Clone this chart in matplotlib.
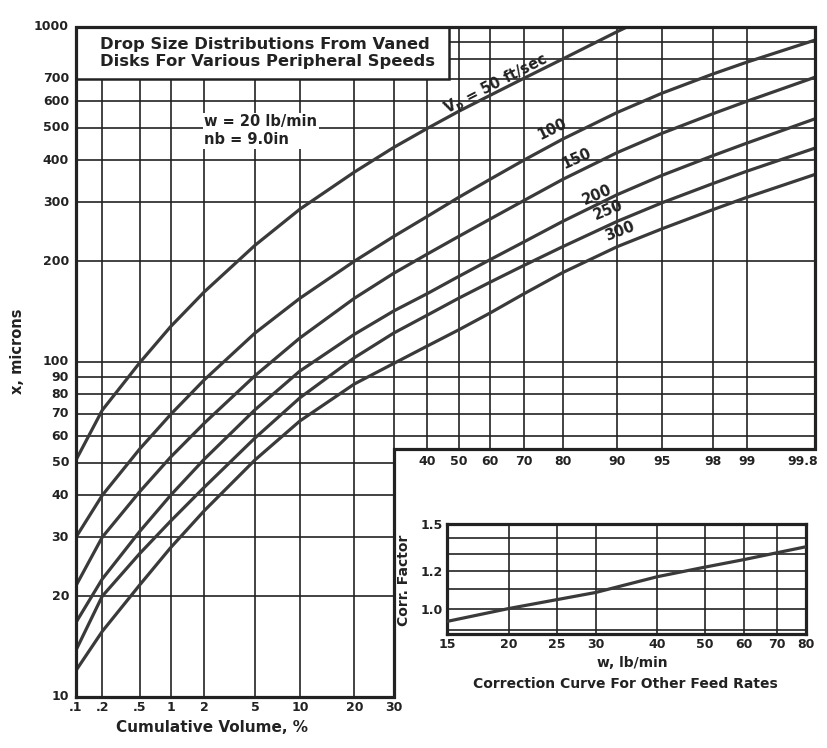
import numpy as np
import matplotlib
matplotlib.use("Agg")
import matplotlib.pyplot as plt
from matplotlib.patches import Rectangle
from matplotlib.ticker import NullLocator, FixedLocator, FixedFormatter
from statistics import NormalDist

# ------------------------------------------------------------------ data
xticks_lower = [0.1, 0.2, 0.5, 1, 2, 5, 10, 20, 30]
xlabels_lower = [".1", ".2", ".5", "1", "2", "5", "10", "20", "30"]
xticks_upper = [40, 50, 60, 70, 80, 90, 95, 98, 99, 99.8]
xlabels_upper = ["40", "50", "60", "70", "80", "90", "95", "98", "99", "99.8"]
yticks = [10, 20, 30, 40, 50, 60, 70, 80, 90, 100, 200, 300, 400, 500, 600, 700, 1000]
ygrid = [20, 30, 40, 50, 60, 70, 80, 90, 100, 200, 300, 400, 500, 600, 700, 800, 900]
step_level = 55

pct = [0.1, 0.2, 0.5, 1, 2, 5, 10, 20, 30, 40, 50, 60, 70, 80, 90, 95, 98, 99, 99.8]
pct_50 = [0.1, 0.2, 0.5, 1, 2, 5, 10, 20, 30, 40, 50, 60, 70, 80, 90, 91.3]
size_50 = [51, 71.8, 99.5, 127.5, 162, 223, 286, 369, 437, 498, 560, 625, 702, 803, 969, 1000]
size_100 = [30, 40, 55, 69.7, 88.5, 122, 155, 200, 237, 272, 310, 351, 400, 463, 556, 635, 724, 785, 914]
size_150 = [21.5, 30, 41, 52, 65.7, 91, 118, 155, 184, 210, 237, 267, 303, 351, 422, 482, 551, 600, 708]
size_200 = [16.7, 22.5, 31.2, 40, 51.3, 72, 94, 121, 142, 160, 180, 202, 228, 263, 316, 361, 413, 450, 532]
size_250 = [13.8, 20, 26.8, 33.5, 42.3, 59.3, 78.2, 103, 122, 138, 155, 173, 194, 221, 263, 299, 341, 371, 435]
size_300 = [12, 15.7, 21.6, 27.9, 36, 51, 66.7, 86, 99, 111.6, 124.7, 140, 159.6, 185, 221, 250, 285, 310, 363]

w_feed = [15, 20, 30, 40, 50, 60, 80]
corr_factor = [0.94, 1.0, 1.08, 1.165, 1.22, 1.265, 1.345]
w_ticks = [15, 20, 25, 30, 40, 50, 60, 70, 80]
corr_ticks = [1.0, 1.2, 1.5]
corr_grid = [0.9, 1.0, 1.1, 1.2, 1.3, 1.4]

# ------------------------------------------------------------------ style
plt.rcParams["font.family"] = ["DejaVu Sans"]
plt.rcParams["font.weight"] = "bold"
INK = "#222222"
CURVE = "#3a3a3a"

_nd = NormalDist()


def _fwd(p):
    p = np.clip(np.asarray(p, dtype=float) / 100.0, 1e-7, 1 - 1e-7)
    return np.vectorize(_nd.inv_cdf, otypes=[float])(p)


def _inv(z):
    z = np.asarray(z, dtype=float)
    return 100.0 * np.vectorize(_nd.cdf, otypes=[float])(z)


fig = plt.figure(figsize=(8.27, 7.48), dpi=100)
W, H = 827.0, 748.0
ax = fig.add_axes([76 / W, 1 - 697 / H, (815 - 76) / W, (697 - 27) / H])
ax.set_xscale("function", functions=(_fwd, _inv))
ax.set_yscale("log")
ax.set_xlim(0.1, 99.8)
ax.set_ylim(10, 1000)
for axis in (ax.xaxis, ax.yaxis):
    axis.set_major_locator(NullLocator())
    axis.set_minor_locator(NullLocator())
for s in ax.spines.values():
    s.set_visible(False)

# grid lines (L-shaped chart area)
ax.vlines(xticks_lower[1:], 10, 1000, colors=INK, lw=1.2, zorder=1)
ax.vlines(xticks_upper[:-1], step_level, 1000, colors=INK, lw=1.2, zorder=1)
for v in ygrid:
    ax.hlines(v, 0.1, 30 if v < step_level else 99.8, colors=INK, lw=1.2, zorder=1)

# frame
fx = [0.1, 30, 30, 99.8, 99.8, 0.1, 0.1]
fy = [10, 10, step_level, step_level, 1000, 1000, 10]
ax.plot(fx, fy, color=INK, lw=2.3, clip_on=False, zorder=6, solid_joinstyle="miter")

# curves
ax.plot(pct_50, size_50, color=CURVE, lw=2.3, zorder=3)
for s in (size_100, size_150, size_200, size_250, size_300):
    ax.plot(pct, s, color=CURVE, lw=2.3, zorder=3)

# curve labels
lab_kw = dict(fontsize=10.5, fontweight="bold", color=INK, ha="center", va="center", zorder=5)
ax.text(62, 672, r"V$_\mathbf{p}$ = 50 ft/sec", rotation=27, **lab_kw)
ax.text(77.5, 496, "100", rotation=26, **lab_kw)
ax.text(83, 406, "150", rotation=24, **lab_kw)
ax.text(86.8, 316, "200", rotation=23, **lab_kw)
ax.text(88.6, 285, "250", rotation=22, **lab_kw)
ax.text(90.4, 246, "300", rotation=21, **lab_kw)

# title box
ax.add_patch(Rectangle((0.1, 700), 47 - 0.1, 300, facecolor="white",
                       edgecolor=INK, lw=1.8, zorder=4))
ax.text(0.19, 835, "Drop Size Distributions From Vaned\nDisks For Various Peripheral Speeds",
        fontsize=11.8, fontweight="bold", color=INK, ha="left", va="center",
        linespacing=1.15, zorder=5)

ax.text(2.0, 490, "w = 20 lb/min\nnb = 9.0in", fontsize=10.5, fontweight="bold",
        color=INK, ha="left", va="center", linespacing=1.25, zorder=5,
        bbox=dict(facecolor="white", edgecolor="none", pad=1.0))

# tick labels
tk = dict(fontsize=9, fontweight="bold", color=INK, textcoords="offset points")
for p, l in zip(xticks_lower, xlabels_lower):
    ax.annotate(l, xy=(p, 10), xytext=(0, -3), ha="center", va="top", **tk)
for p, l in zip(xticks_upper, xlabels_upper):
    dx = -9 if l == "99.8" else 0
    ax.annotate(l, xy=(p, step_level), xytext=(dx, -4), ha="center", va="top", **tk)
for v in yticks:
    ax.annotate(str(v), xy=(0.1, v), xytext=(-5, 0), ha="right", va="center", **tk)

fig.text(18 / W, 1 - 351 / H, "x, microns", rotation=90, fontsize=10.5,
         fontweight="bold", color=INK, ha="center", va="center")
fig.text(212 / W, 1 - 727 / H, "Cumulative Volume, %", fontsize=11,
         fontweight="bold", color=INK, ha="center", va="center")

# ------------------------------------------------------------------ inset
ax2 = fig.add_axes([447 / W, 1 - 634 / H, (806 - 447) / W, (634 - 524) / H])
ax2.set_xscale("log")
ax2.set_yscale("log")
ax2.set_xlim(15, 80)
ax2.set_ylim(0.885, 1.5)
ax2.vlines(w_ticks[1:-1], 0.885, 1.5, colors=INK, lw=1.2, zorder=1)
ax2.hlines(corr_grid, 15, 80, colors=INK, lw=1.2, zorder=1)
ax2.plot(w_feed, corr_factor, color=CURVE, lw=2.3, zorder=3)
for s in ax2.spines.values():
    s.set_linewidth(2.3)
    s.set_color(INK)
ax2.xaxis.set_major_locator(FixedLocator(w_ticks))
ax2.xaxis.set_major_formatter(FixedFormatter([str(w) for w in w_ticks]))
ax2.xaxis.set_minor_locator(NullLocator())
ax2.yaxis.set_major_locator(FixedLocator(corr_ticks))
ax2.yaxis.set_major_formatter(FixedFormatter(["%.1f" % c for c in corr_ticks]))
ax2.yaxis.set_minor_locator(NullLocator())
ax2.tick_params(length=0, labelsize=9, colors=INK, pad=3)
for t in ax2.get_xticklabels() + ax2.get_yticklabels():
    t.set_fontweight("bold")

fig.text(404 / W, 1 - 580 / H, "Corr. Factor", rotation=90, fontsize=10,
         fontweight="bold", color=INK, ha="center", va="center")
fig.text(632 / W, 1 - 663 / H, "w, lb/min", fontsize=10,
         fontweight="bold", color=INK, ha="center", va="center")
fig.text(625 / W, 1 - 684 / H, "Correction Curve For Other Feed Rates", fontsize=10,
         fontweight="bold", color=INK, ha="center", va="center")

fig.savefig("out.png", dpi=100, facecolor="white")
